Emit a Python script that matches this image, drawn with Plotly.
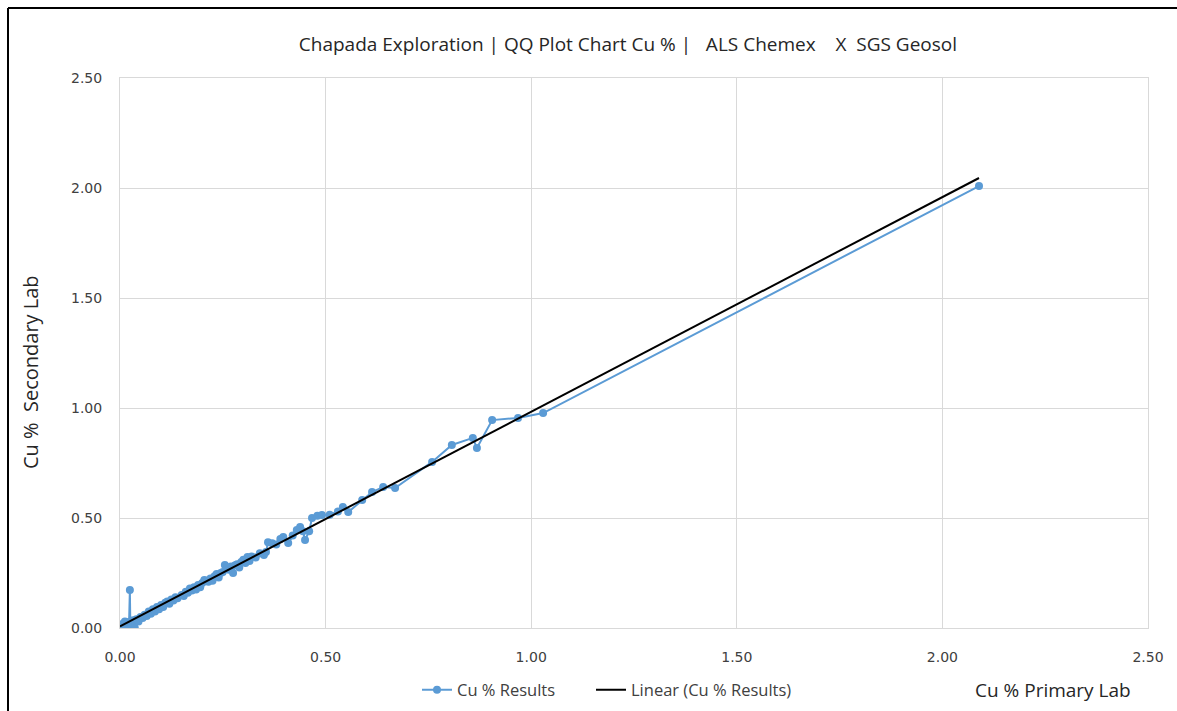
import numpy as np
import plotly.graph_objects as go

# Cu % Primary Lab (ALS Chemex) vs Cu % Secondary Lab (SGS Geosol)
primary = [0.000, 0.003, 0.005, 0.008, 0.010, 0.012, 0.015, 0.018, 0.022, 0.024,
           0.025, 0.028, 0.032, 0.036, 0.040, 0.045, 0.050, 0.055, 0.060, 0.065,
           0.070, 0.075, 0.080, 0.085, 0.090, 0.095, 0.100, 0.105, 0.110, 0.115,
           0.120, 0.125, 0.130, 0.135, 0.140, 0.150, 0.155, 0.160, 0.165, 0.170,
           0.175, 0.180, 0.185, 0.190, 0.195, 0.200, 0.205, 0.210, 0.215, 0.220,
           0.225, 0.230, 0.235, 0.240, 0.245, 0.250, 0.255, 0.260, 0.265, 0.270,
           0.275, 0.280, 0.285, 0.290, 0.295, 0.300, 0.305, 0.310, 0.315, 0.320,
           0.330, 0.340, 0.350, 0.355, 0.360, 0.370, 0.380, 0.390, 0.397, 0.409,
           0.420, 0.430, 0.438, 0.445, 0.450, 0.460, 0.467, 0.480, 0.491, 0.510,
           0.530, 0.542, 0.555, 0.589, 0.613, 0.640, 0.669, 0.759, 0.807, 0.858,
           0.868, 0.905, 0.968, 1.029, 2.089]
secondary = [0.005, 0.015, 0.000, 0.020, 0.010, 0.030, 0.005, 0.025, 0.020, 0.173,
             0.030, 0.015, 0.035, 0.000, 0.040, 0.030, 0.050, 0.045, 0.060, 0.055,
             0.075, 0.065, 0.085, 0.075, 0.095, 0.085, 0.105, 0.095, 0.115, 0.120,
             0.110, 0.130, 0.125, 0.140, 0.135, 0.150, 0.145, 0.165, 0.160, 0.180,
             0.170, 0.185, 0.175, 0.195, 0.185, 0.205, 0.218, 0.215, 0.210, 0.225,
             0.215, 0.235, 0.245, 0.230, 0.250, 0.255, 0.286, 0.275, 0.265, 0.280,
             0.250, 0.285, 0.290, 0.275, 0.300, 0.310, 0.295, 0.323, 0.305, 0.325,
             0.320, 0.340, 0.332, 0.345, 0.390, 0.385, 0.380, 0.405, 0.414, 0.386,
             0.420, 0.445, 0.459, 0.440, 0.400, 0.440, 0.500, 0.510, 0.514, 0.515,
             0.530, 0.550, 0.527, 0.582, 0.618, 0.641, 0.636, 0.755, 0.832, 0.864,
             0.818, 0.945, 0.955, 0.977, 2.009]

x_ticks = [0.0, 0.5, 1.0, 1.5, 2.0, 2.5]
y_ticks = [0.0, 0.5, 1.0, 1.5, 2.0, 2.5]

title_text = "Chapada Exploration | QQ Plot Chart Cu % |   ALS Chemex    X  SGS Geosol"
x_title = "Cu % Primary Lab"
y_title = "Cu %  Secondary Lab"

# Linear trendline fitted to the results (like Excel "Linear" trendline)
xa = np.array(primary)
ya = np.array(secondary)
slope, intercept = np.polyfit(xa, ya, 1)
trend_x = [xa.min(), xa.max()]
trend_y = [intercept + slope * v for v in trend_x]

FONT = "Open Sans"
TICKFONT = "DejaVu Sans"
TXT = "#404040"
GRID = "#D9D9D9"

fig = go.Figure()
fig.add_trace(go.Scatter(
    x=primary, y=secondary, mode="lines+markers", name="Cu % Results",
    line=dict(color="#5B9BD5", width=2),
    marker=dict(color="#5B9BD5", size=8),
    legend="legend",
))
fig.add_trace(go.Scatter(
    x=trend_x, y=trend_y, mode="lines", name="Linear (Cu % Results)",
    line=dict(color="#000000", width=2),
    legend="legend2",
))

legend_common = dict(orientation="h", xanchor="left",
                     yref="container", y=1 - 690 / 711, yanchor="middle",
                     font=dict(family=FONT, size=16.5, color=TXT),
                     bgcolor="rgba(0,0,0,0)", itemwidth=30)

fig.update_layout(
    width=1177, height=711,
    margin=dict(l=120, r=29, t=78, b=83, autoexpand=False),
    paper_bgcolor="white", plot_bgcolor="white",
    font=dict(family=FONT, color=TXT, size=13),
    title=dict(text=title_text, x=0.5335, xanchor="center", y=0.938, yanchor="middle",
               font=dict(family=FONT, size=19, color="#262626")),
    showlegend=True,
    legend=dict(x=(417 - 120) / 1028, **legend_common),
    legend2=dict(x=(591 - 120) / 1028, **legend_common),
    xaxis=dict(range=[0, 2.5], tickvals=x_ticks, tickformat=".2f",
               showgrid=True, gridcolor=GRID, gridwidth=1,
               showline=True, linecolor=GRID, linewidth=1, mirror=True,
               zeroline=False, ticks="", tickfont=dict(family=TICKFONT, size=14, color=TXT),
               ticklabelstandoff=16),
    yaxis=dict(range=[0, 2.5], tickvals=y_ticks, tickformat=".2f",
               showgrid=True, gridcolor=GRID, gridwidth=1,
               showline=True, linecolor=GRID, linewidth=1, mirror=True,
               zeroline=False, ticks="", tickfont=dict(family=TICKFONT, size=14, color=TXT),
               ticklabelstandoff=14),
    annotations=[
        dict(text=x_title, xref="paper", yref="paper", x=(1133 - 120) / 1028, y=(628 - 690) / 550,
             xanchor="right", yanchor="middle", showarrow=False,
             font=dict(family=FONT, size=19, color="#262626")),
        dict(text=y_title, xref="paper", yref="paper", x=(30 - 120) / 1028, y=(628 - 372) / 550,
             xanchor="center", yanchor="middle", textangle=-90, showarrow=False,
             font=dict(family=FONT, size=20, color="#262626")),
    ],
    shapes=[
        dict(type="line", xref="paper", yref="paper",
             x0=(8 - 120) / 1028, x1=(8 - 120) / 1028, y0=(628 - 8) / 550, y1=(628 - 720) / 550,
             line=dict(color="#000000", width=2)),
        dict(type="line", xref="paper", yref="paper",
             x0=(8 - 120) / 1028, x1=(1180 - 120) / 1028, y0=(628 - 8) / 550, y1=(628 - 8) / 550,
             line=dict(color="#000000", width=2)),
    ],
)

fig.write_html("out.html")
